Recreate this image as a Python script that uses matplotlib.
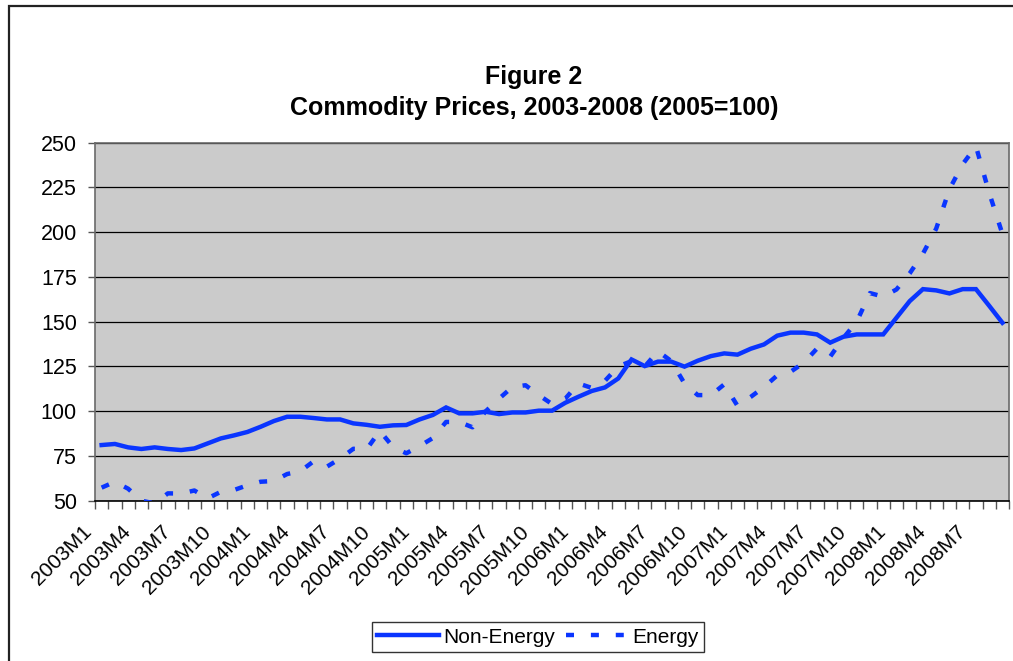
import numpy as np
import matplotlib.pyplot as plt
from matplotlib.patches import Rectangle
from matplotlib.transforms import ScaledTranslation

# monthly categories 2003M1 .. 2008M9
months = ["%dM%d" % (y, m) for y in range(2003, 2009) for m in range(1, 13)][:69]

non_energy = [81.1, 81.7, 79.8, 78.9, 79.8, 78.9, 78.3, 79.2, 82.0, 84.8,
              86.5, 88.4, 91.3, 94.5, 96.9, 96.9, 96.2, 95.4, 95.4, 93.2,
              92.4, 91.3, 92.1, 92.3, 95.4, 97.9, 102.1, 98.8, 98.8, 99.7,
              98.4, 99.3, 99.3, 100.3, 100.3, 104.7, 108.1, 111.3, 113.3, 118.3,
              128.9, 125.2, 127.7, 127.7, 124.9, 128.2, 130.8, 132.3, 131.6, 134.9,
              137.3, 142.2, 143.9, 143.9, 142.9, 138.3, 141.6, 142.9, 142.9, 142.9,
              152.2, 161.5, 168.2, 167.5, 165.8, 168.2, 168.2, 158.9, 149.4]

energy = [57.3, 60.6, 56.7, 50.0, 48.5, 54.1, 54.0, 55.7, 51.3, 55.0,
          56.0, 58.6, 60.6, 61.0, 64.9, 66.5, 72.0, 69.0, 73.5, 79.0,
          78.7, 89.0, 80.0, 76.5, 80.5, 85.0, 94.0, 94.0, 91.0, 100.0,
          107.0, 113.5, 114.5, 109.0, 104.0, 107.0, 115.5, 113.0, 117.0, 125.0,
          128.0, 125.0, 133.5, 128.0, 115.5, 109.0, 109.0, 115.0, 103.0, 108.0,
          113.5, 120.0, 122.0, 127.0, 135.0, 130.5, 141.0, 150.0, 166.0, 164.0,
          168.0, 177.0, 188.0, 202.0, 224.0, 238.0, 248.0, 222.0, 199.0]

yticks = [50, 75, 100, 125, 150, 175, 200, 225, 250]

plt.rcParams['font.family'] = ['Liberation Sans', 'DejaVu Sans']

blue = '#0a35ff'

fig = plt.figure(figsize=(10.13, 6.61), dpi=100)
ax = fig.add_axes([0.0938, 0.2425, 0.9023, 0.5416])
ax.set_facecolor('#cbcbcb')

x = np.arange(len(months))
ax.plot(x, non_energy, color=blue, lw=3.2, solid_joinstyle='miter',
        label='Non-Energy', zorder=3)
ax.plot(x, energy, color=blue, lw=3.2, dashes=(1.8, 3.8),
        dash_capstyle='butt', label='Energy', zorder=3)

ax.set_xlim(-0.5, len(months) - 0.5)
ax.set_ylim(50, 250)

ax.set_yticks(yticks)
ax.set_yticklabels([str(v) for v in yticks], fontsize=15.5)
ax.grid(axis='y', color='black', lw=0.9, zorder=1)
ax.set_axisbelow(True)
ax.tick_params(axis='y', length=5, width=1, color='#555555', pad=8)

# tick marks between categories, labels every third month
ax.set_xticks(np.arange(len(months) + 1) - 0.5, minor=True)
ax.set_xticks(x[::3])
ax.set_xticklabels(months[::3], rotation=45, ha='right', va='top',
                   rotation_mode='anchor', fontsize=15)
ax.tick_params(axis='x', which='major', length=0, pad=6)
ax.tick_params(axis='x', which='minor', length=6, width=1, color='#555555')
shift = ScaledTranslation(-20 / 100, -13 / 100, fig.dpi_scale_trans)
for lab in ax.get_xticklabels():
    lab.set_transform(lab.get_transform() + shift)

for s in ax.spines.values():
    s.set_color('#6a6a6a')
    s.set_linewidth(1.2)
ax.spines['bottom'].set_color('black')

fig.text(0.527, 0.8835, 'Figure 2', ha='center', va='center',
         fontsize=18, fontweight='bold')
fig.text(0.527, 0.8366, 'Commodity Prices, 2003-2008 (2005=100)',
         ha='center', va='center', fontsize=18, fontweight='bold')

fig.legend(loc='center', bbox_to_anchor=(0.531, 0.036), ncol=2,
           fontsize=15, fancybox=False, edgecolor='#333333',
           framealpha=1, handlelength=3, handletextpad=0.2,
           columnspacing=0.5, borderpad=0.25)

# outer chart frame (runs off the right and bottom edge)
fig.add_artist(Rectangle((8.5 / 1013, -0.1), 1.2, 1.1 - 5.5 / 661,
                         transform=fig.transFigure, fill=False,
                         edgecolor='#222222', lw=1.6))

fig.savefig('out.png', dpi=100)
